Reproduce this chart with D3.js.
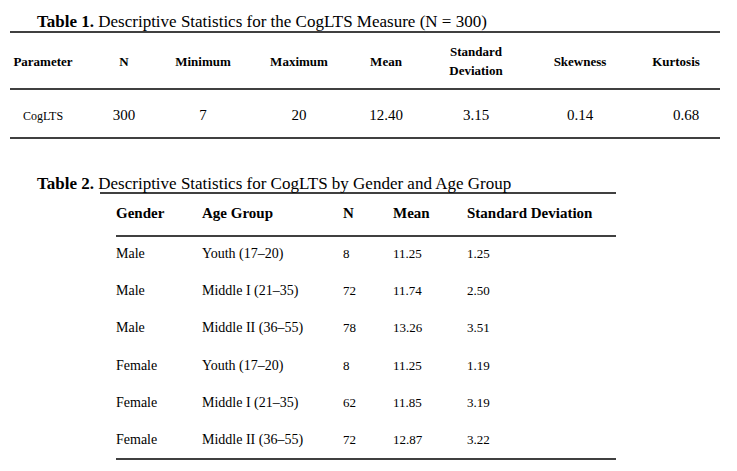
<!DOCTYPE html>
<html><head><meta charset="utf-8">
<script src="https://cdn.jsdelivr.net/npm/d3@7"></script>
<style>body{margin:0;background:#fff}text{font-family:"Liberation Serif",serif;fill:#000}</style>
</head><body><svg width="737" height="471"></svg>
<script>
// table 1
const t1Headers = [["Parameter"], ["N"], ["Minimum"], ["Maximum"], ["Mean"], ["Standard", "Deviation"], ["Skewness"], ["Kurtosis"]];
const t1Row = ["CogLTS", "300", "7", "20", "12.40", "3.15", "0.14", "0.68"];
// table 2
const t2Headers = ["Gender", "Age Group", "N", "Mean", "Standard Deviation"];
const gender = ["Male", "Male", "Male", "Female", "Female", "Female"];
const ageGroup = ["Youth (17–20)", "Middle I (21–35)", "Middle II (36–55)", "Youth (17–20)", "Middle I (21–35)", "Middle II (36–55)"];
const nVals = ["8", "72", "78", "8", "62", "72"];
const meanVals = ["11.25", "11.74", "13.26", "11.25", "11.85", "12.87"];
const sdVals = ["1.25", "2.50", "3.51", "1.19", "3.19", "3.22"];

const svg = d3.select("svg");

function title(y, bold, rest) {
    const t = svg.append("text").attr("x", 37).attr("y", y).style("font-size", "17px");
    t.append("tspan").style("font-weight", "bold").text(bold);
    t.append("tspan").text(rest);
}
function hline(x1, x2, y) {
    svg.append("line").attr("x1", x1).attr("x2", x2).attr("y1", y).attr("y2", y)
        .attr("stroke", "#000").attr("stroke-width", 1.3);
}

// ---- Table 1
title(27, "Table 1.", " Descriptive Statistics for the CogLTS Measure (N = 300)");
hline(10, 720, 32); hline(10, 720, 89); hline(10, 720, 138);
const x1pos = [43, 124, 203, 299, 386, 476, 580, 676];
const g1 = svg.append("g");
t1Headers.forEach((h, i) => {
    const t = g1.append("text").attr("text-anchor", "middle").attr("x", x1pos[i])
        .attr("y", h.length > 1 ? 56 : 66).style("font-size", "13px").style("font-weight", "bold");
    h.forEach((s, k) => t.append("tspan").attr("x", x1pos[i]).attr("dy", k ? 19 : 0).text(s));
});
g1.selectAll(".v").data(t1Row).enter().append("text")
    .attr("text-anchor", "middle")
    .attr("x", (d, i) => i === 7 ? 686 : x1pos[i])
    .attr("y", 120)
    .style("font-size", (d, i) => i === 0 ? "12px" : "15px")
    .text(d => d);

// ---- Table 2
title(189, "Table 2.", " Descriptive Statistics for CogLTS by Gender and Age Group");
hline(100, 616, 193); hline(116, 616, 236); hline(116, 616, 459);
const cols = [116, 202, 343, 393, 467];
t2Headers.forEach((h, i) => svg.append("text").attr("x", cols[i]).attr("y", 218)
    .style("font-size", "15px").style("font-weight", "bold").text(h));
const y2 = d3.scalePoint().domain(d3.range(gender.length)).range([258, 444]);
const rows = svg.selectAll(".r").data(gender.map((g, i) => [g, ageGroup[i], nVals[i], meanVals[i], sdVals[i]]))
    .enter().append("g").attr("transform", (d, i) => "translate(0," + y2(i) + ")");
rows.selectAll("text").data(d => d).enter().append("text")
    .attr("x", (d, i) => cols[i])
    .style("font-size", (d, i) => i < 2 ? "14px" : "13px")
    .text(d => d);
</script></body></html>
